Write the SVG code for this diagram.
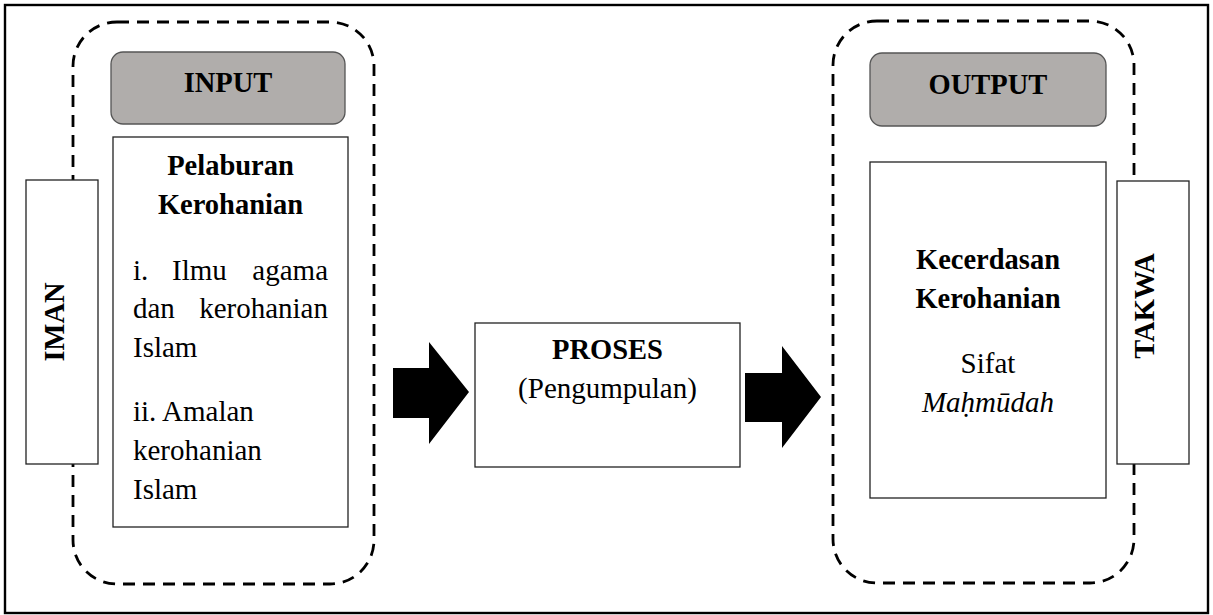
<svg xmlns="http://www.w3.org/2000/svg" width="1213" height="615" viewBox="0 0 1213 615">
<style>
.frame{fill:#fff;stroke:#000;stroke-width:2.4}
.dash{fill:none;stroke:#000;stroke-width:2.8;stroke-dasharray:12 8}
.box{fill:#fff;stroke:#222;stroke-width:1.3}
.head{fill:#b0adab;stroke:#555;stroke-width:1.3}
.arrow{fill:#000}
text{font-family:"Liberation Serif","Times New Roman",serif;font-size:29px;fill:#000}
.b{font-weight:bold;font-size:28.5px}
.c{text-anchor:middle}
.e{text-anchor:end}
.i{font-style:italic}
</style>
<rect class="frame" x="5" y="5" width="1203" height="608"/>
<g id="input-group">
<rect class="dash" x="73" y="22" width="301" height="562" rx="44" ry="44"/>
</g>
<g id="output-group">
<rect class="dash" x="833" y="21" width="301" height="562" rx="44" ry="44"/>
</g>
<g id="iman">
<rect class="box" x="26" y="180" width="72" height="284"/>
<text class="b c" transform="translate(63.5,322) rotate(-90)">IMAN</text>
</g>
<g id="input">
<rect class="head" x="111" y="52" width="234" height="72" rx="12" ry="12"/>
<text class="b c" x="228" y="92">INPUT</text>
</g>
<g id="pelaburan">
<rect class="box" x="113" y="137" width="235" height="390"/>
<text class="b c" x="230.5" y="175">Pelaburan</text>
<text class="b c" x="230.5" y="214">Kerohanian</text>
<text x="133" y="280">i.</text>
<text x="172" y="280">Ilmu</text>
<text class="e" x="328" y="280">agama</text>
<text x="133" y="318">dan</text>
<text class="e" x="328" y="318">kerohanian</text>
<text x="133" y="357">Islam</text>
<text x="133" y="421">ii. Amalan</text>
<text x="133" y="460">kerohanian</text>
<text x="133" y="499">Islam</text>
</g>
<g id="proses">
<rect class="box" x="475" y="323" width="265" height="144"/>
<text class="b c" x="607.5" y="359">PROSES</text>
<text class="c" x="607.5" y="398">(Pengumpulan)</text>
</g>
<g id="output">
<rect class="head" x="870" y="53" width="236" height="73" rx="12" ry="12"/>
<text class="b c" x="988" y="94">OUTPUT</text>
</g>
<g id="kecerdasan">
<rect class="box" x="870" y="162" width="236" height="336"/>
<text class="b c" x="988" y="269">Kecerdasan</text>
<text class="b c" x="988" y="308">Kerohanian</text>
<text class="c" x="988" y="373">Sifat</text>
<text class="c i" x="988" y="412">Maḥmūdah</text>
</g>
<g id="takwa">
<rect class="box" x="1117" y="181" width="72" height="283"/>
<text class="b c" transform="translate(1154,306) rotate(-90)">TAKWA</text>
</g>
<g id="connectors">
<polygon class="arrow" points="393,368 429,368 429,342 469,392 429,444 429,418 393,418"/>
<polygon class="arrow" points="745,373 782,373 782,346 821,397 782,448 782,422 745,422"/>
</g>
</svg>
